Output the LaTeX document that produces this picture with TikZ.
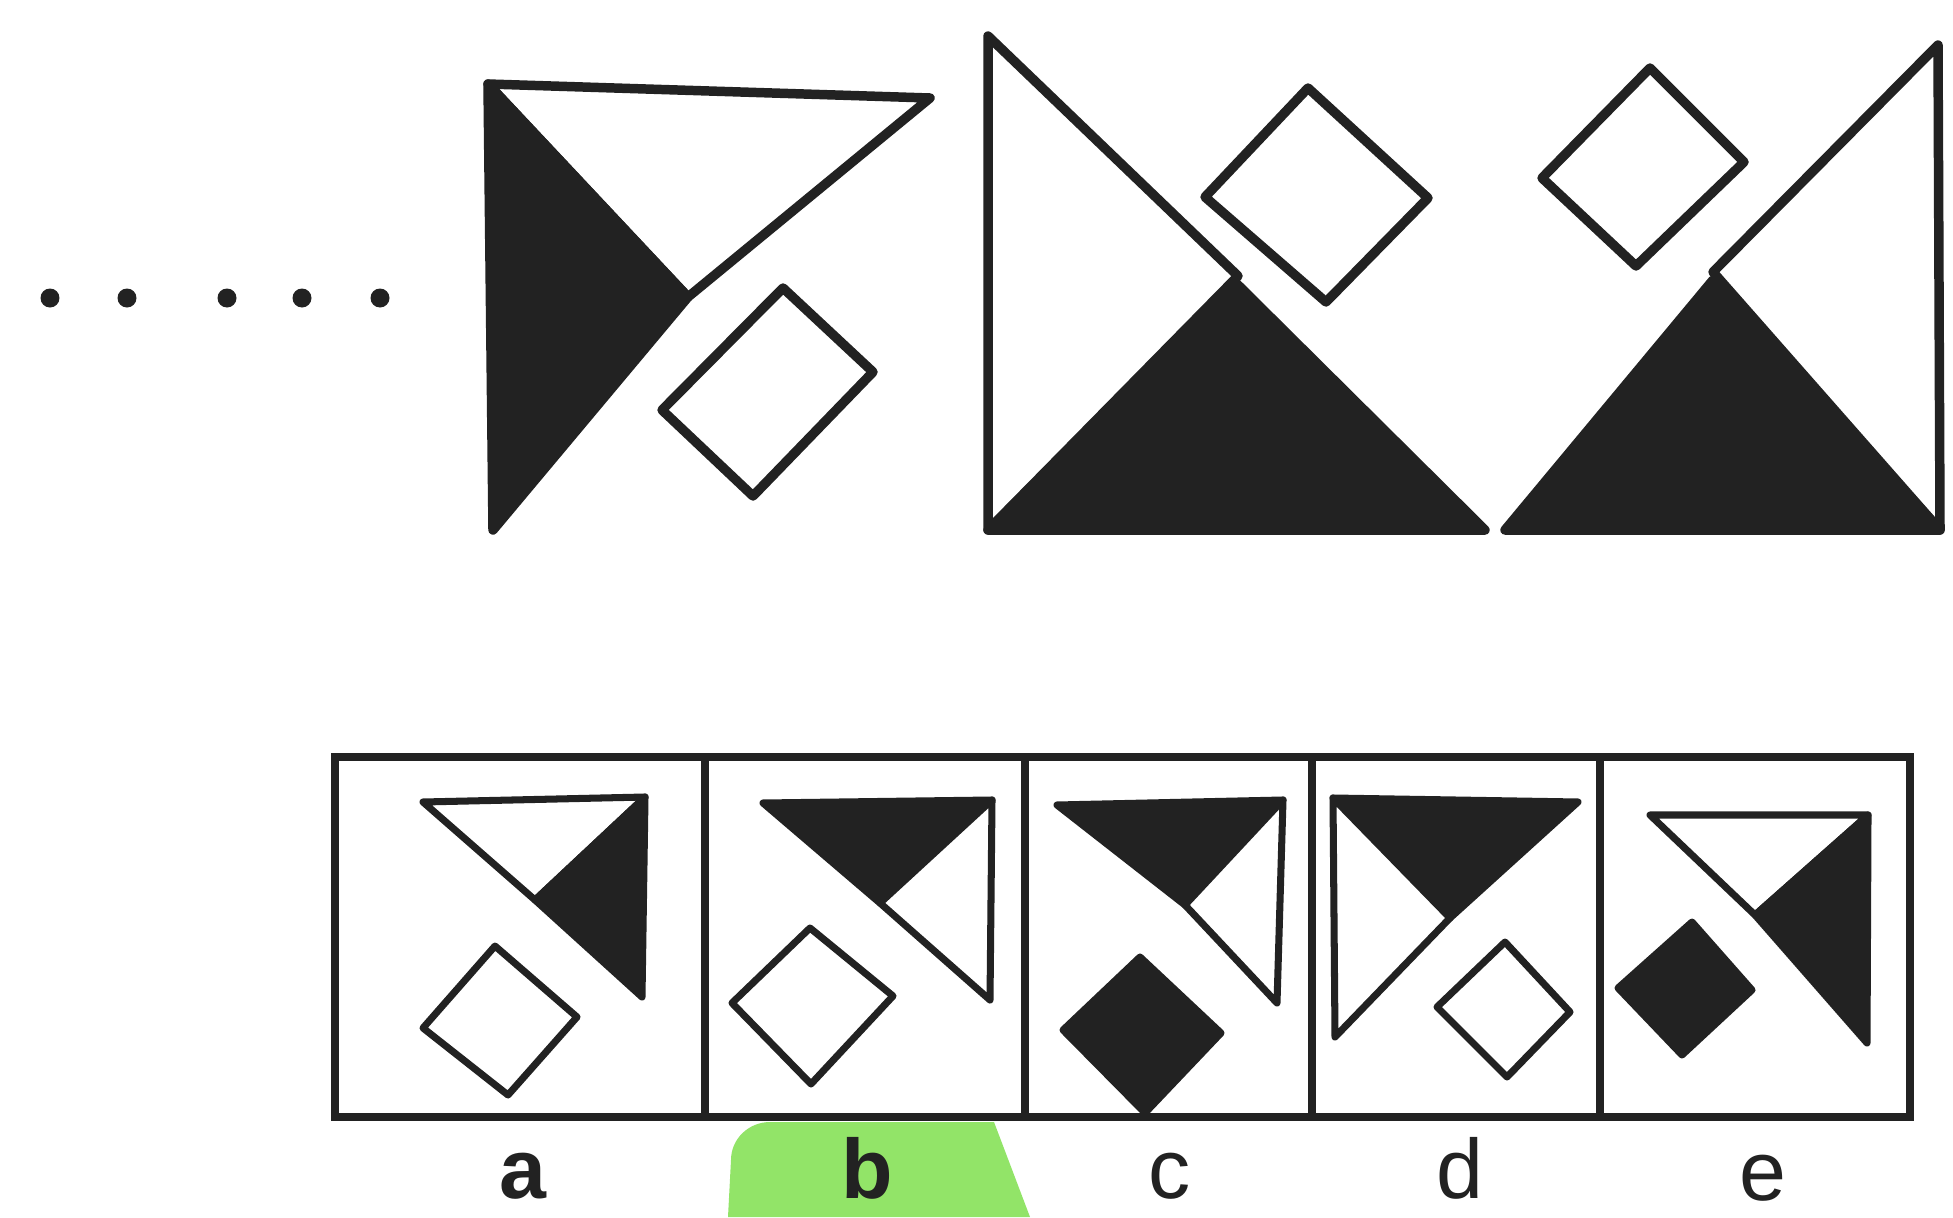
\documentclass[tikz,border=0pt]{standalone}
\usepackage{fontspec}
\setmainfont{Liberation Sans}
\newfontfamily\puzlabelfont{Liberation Sans}
\definecolor{puzInk}{RGB}{34,34,34}
\definecolor{puzMark}{RGB}{146,228,104}

\begin{document}
\begin{tikzpicture}[x=0.02cm, y=-0.02cm,
    bigopen/.style={draw=puzInk, fill=white, line width=5.4pt, line join=round},
    bigfill/.style={draw=puzInk, fill=puzInk, line width=5.4pt, line join=round},
    smallopen/.style={draw=puzInk, fill=white, line width=4pt, line join=round},
    smallfill/.style={draw=puzInk, fill=puzInk, line width=4pt, line join=round},
    cellbox/.style={draw=puzInk, line width=4.6pt},
    letter/.style={font=\puzlabelfont\fontsize{48}{52}\selectfont, text=puzInk,
      inner sep=0pt, anchor=base}
  ]
    \useasboundingbox (0,0) rectangle (1953,1217);
    \fill[white] (0,0) rectangle (1953,1217);

    % leading dots
    \foreach \x in {50,127,227,302,380}
      \fill[puzInk] (\x,298) circle[radius=0.19cm];

    % series, first figure
    \draw[bigopen] (488,84) -- (930,98) -- (688,297) -- cycle;
    \draw[bigfill] (488,84) -- (688,297) -- (493,530) -- cycle;
    \draw[bigopen] (783,288) -- (873,372) -- (753,496) -- (662,410) -- cycle;

    % second figure
    \draw[bigopen] (988,36) -- (1238,276) -- (988,530) -- cycle;
    \draw[bigfill] (988,530) -- (1236,283) -- (1485,530) -- cycle;
    \draw[bigopen] (1308,88) -- (1428,198) -- (1326,302) -- (1205,197) -- cycle;

    % third figure
    \draw[bigopen] (1938,45) -- (1713,272) -- (1940,530) -- cycle;
    \draw[bigfill] (1505,530) -- (1713,280) -- (1940,530) -- cycle;
    \draw[bigopen] (1650,68) -- (1744,162) -- (1636,266) -- (1542,178) -- cycle;

    % answer strip
    \draw[cellbox] (335,757) rectangle (1910,1117);
    \foreach \x in {705,1025,1312,1600}
      \draw[cellbox] (\x,757) -- (\x,1117);

    % a
    \draw[smallopen] (423,802) -- (645,797) -- (535,900) -- cycle;
    \draw[smallfill] (645,797) -- (642,997) -- (535,900) -- cycle;
    \draw[smallopen] (495,946) -- (577,1017) -- (508,1095) -- (423,1028) -- cycle;

    % b
    \draw[smallfill] (763,803) -- (992,800) -- (880,903) -- cycle;
    \draw[smallopen] (992,800) -- (990,1000) -- (880,903) -- cycle;
    \draw[smallopen] (810,928) -- (893,996) -- (811,1084) -- (732,1003) -- cycle;

    % c
    \draw[smallfill] (1057,805) -- (1283,800) -- (1185,905) -- cycle;
    \draw[smallopen] (1283,800) -- (1277,1003) -- (1185,905) -- cycle;
    \draw[smallfill] (1140,957) -- (1221,1033) -- (1145,1113) -- (1063,1030) -- cycle;

    % d
    \draw[smallfill] (1333,798) -- (1578,802) -- (1450,918) -- cycle;
    \draw[smallopen] (1333,798) -- (1450,918) -- (1335,1037) -- cycle;
    \draw[smallopen] (1505,942) -- (1570,1012) -- (1507,1077) -- (1437,1007) -- cycle;

    % e
    \draw[smallopen] (1650,815) -- (1868,815) -- (1755,915) -- cycle;
    \draw[smallfill] (1868,815) -- (1867,1043) -- (1755,915) -- cycle;
    \draw[smallfill] (1692,922) -- (1752,990) -- (1682,1055) -- (1618,988) -- cycle;

    % marked answer
    \fill[puzMark] (728,1217) -- (731,1160) to[out=90,in=180] (770,1122)
      -- (994,1122) -- (1030,1217) -- cycle;

    \node[letter] (labA) at (523,1198) {\textbf{a}};
    \node[letter] (labB) at (867,1198) {\textbf{b}};
    \node[letter] (labC) at (1170,1198) {c};
    \node[letter] (labD) at (1460,1198) {d};
    \node[letter] (labE) at (1763,1200) {e};
  \end{tikzpicture}
\end{document}
